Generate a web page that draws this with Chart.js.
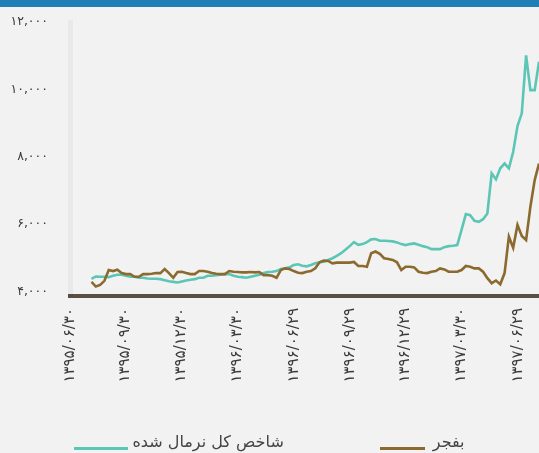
<!DOCTYPE html>
<html lang="fa">
<head>
<meta charset="utf-8">
<script src="https://cdn.jsdelivr.net/npm/chart.js@4.4.0/dist/chart.umd.min.js"></script>
<style>
  html, body { margin: 0; padding: 0; background: #f2f2f2; }
  body { width: 539px; height: 453px; position: relative; overflow: hidden;
         font-family: "DejaVu Sans", sans-serif; }
  .top-bar { position: absolute; left: 0; top: 0; width: 539px; height: 7px; background: #1f7eb6; }
  #chart-wrap { position: absolute; left: 0; top: 0; width: 539px; height: 453px; }
  .legend { position: absolute; left: 0; top: 432px; width: 539px; display: flex;
            justify-content: center; gap: 96px; color: #444; font-size: 16px; }
  .legend-item { display: flex; align-items: flex-end; }
  .legend-line { display: inline-block; height: 3px; margin-bottom: 1px; }
</style>
</head>
<body>
<div id="chart-wrap"><canvas id="chart"></canvas></div>
<div class="top-bar"></div>
<div class="legend" id="legend"></div>

<script>
// ── Data ──────────────────────────────────────────────────────────────────────
// x axis is counted in days from 1395/06/30
const xTickDays   = [0, 90, 180, 272, 364, 455, 545, 637, 729];
const xTickLabels = ["۱۳۹۵/۰۶/۳۰", "۱۳۹۵/۰۹/۳۰", "۱۳۹۵/۱۲/۳۰", "۱۳۹۶/۰۳/۳۰", "۱۳۹۶/۰۶/۲۹",
                     "۱۳۹۶/۰۹/۲۹", "۱۳۹۶/۱۲/۲۹", "۱۳۹۷/۰۳/۳۰", "۱۳۹۷/۰۶/۲۹"];
const yTicks      = [4000, 6000, 8000, 10000, 12000];
const yTickLabels = ["۴,۰۰۰", "۶,۰۰۰", "۸,۰۰۰", "۱۰,۰۰۰", "۱۲,۰۰۰"];

// weekly samples
const startDay = 35;
const stepDays = 7;

const indexNormalized = [
  4380, 4450, 4440, 4440, 4430, 4470, 4500, 4500, 4470, 4440,
  4440, 4410, 4410, 4390, 4380, 4380, 4370, 4340, 4310, 4290,
  4270, 4300, 4330, 4350, 4370, 4410, 4410, 4470, 4470, 4490,
  4500, 4520, 4520, 4470, 4440, 4430, 4410, 4440, 4470, 4500,
  4550, 4580, 4590, 4610, 4670, 4690, 4720, 4790, 4810, 4770,
  4750, 4790, 4840, 4870, 4890, 4940, 4990, 5060, 5140, 5240,
  5350, 5470, 5390, 5410, 5470, 5550, 5560, 5510, 5510, 5500,
  5490, 5460, 5410, 5380, 5410, 5430, 5390, 5350, 5320, 5260,
  5260, 5260, 5320, 5350, 5360, 5380, 5830, 6300, 6270, 6100,
  6070, 6150, 6320, 7510, 7330, 7660, 7800, 7660, 8150, 8910,
  9290, 11010, 9980, 9980, 10820
];

const bafajr = [
  4290, 4150, 4200, 4320, 4640, 4610, 4650, 4550, 4520, 4520,
  4440, 4440, 4520, 4520, 4530, 4550, 4550, 4670, 4550, 4410,
  4580, 4590, 4550, 4520, 4520, 4610, 4610, 4590, 4550, 4530,
  4520, 4520, 4610, 4590, 4580, 4570, 4570, 4580, 4570, 4580,
  4490, 4490, 4470, 4410, 4640, 4690, 4670, 4610, 4560, 4550,
  4590, 4610, 4690, 4870, 4920, 4910, 4840, 4860, 4860, 4860,
  4860, 4880, 4760, 4760, 4740, 5140, 5190, 5120, 4990, 4970,
  4940, 4870, 4640, 4740, 4740, 4720, 4590, 4560, 4550, 4590,
  4610, 4690, 4660, 4590, 4590, 4590, 4640, 4760, 4740, 4690,
  4690, 4590, 4400, 4250, 4330, 4220, 4550, 5630, 5300, 5980,
  5650, 5530, 6520, 7310, 7800
];

const series = [
  { label: "شاخص کل نرمال شده", values: indexNormalized, color: "#5cc6b6", order: 1 },
  { label: "بفجر",              values: bafajr,          color: "#8b6a2f", order: 0 }
];

// ── Chart ─────────────────────────────────────────────────────────────────────
function toPoints(values) {
  return values.map((v, i) => ({ x: startDay + i * stepDays, y: v }));
}

Chart.defaults.font.family = "'DejaVu Sans', sans-serif";

new Chart(document.getElementById("chart"), {
  type: "line",
  data: {
    datasets: series.map(s => ({
      label:       s.label,
      data:        toPoints(s.values),
      borderColor: s.color,
      borderWidth: 2.6,
      pointRadius: 0,
      tension:     0,
      fill:        false,
      order:       s.order
    }))
  },
  options: {
    responsive:          true,
    maintainAspectRatio: false,
    animation:           false,
    layout: { padding: { top: 22, left: 0, right: 0, bottom: 0 } },
    plugins: {
      legend:  { display: false },
      tooltip: { enabled: false }
    },
    scales: {
      x: {
        type: "linear",
        min:  0,
        max:  763,
        afterBuildTicks: s => { s.ticks = xTickDays.map(v => ({ value: v })); },
        afterFit: s => {
          s.height = 157;
          s.paddingLeft = 0;
          s.paddingRight = 0;
        },
        ticks: {
          autoSkip:    false,
          minRotation: 90,
          maxRotation: 90,
          padding:     12,
          color:       "#3a3a3a",
          font:        { size: 15 },
          callback:    (v, i) => xTickLabels[i]
        },
        grid:   { display: false, drawTicks: false },
        border: { display: true, color: "#5b4e44", width: 4 }
      },
      y: {
        min: 3870,
        max: 12000,
        afterBuildTicks: s => { s.ticks = yTicks.map(v => ({ value: v })); },
        afterFit: s => {
          s.width = 70;
          s.paddingTop = 0;
          s.paddingBottom = 0;
        },
        ticks: {
          padding:  22,
          color:    "#3a3a3a",
          font:     { size: 12.5 },
          callback: (v, i) => yTickLabels[i]
        },
        grid:   { display: false, drawTicks: false },
        border: { display: true, color: "rgba(0,0,0,0.035)", width: 5 }
      }
    }
  }
});

// ── Legend ────────────────────────────────────────────────────────────────────
const legendWidths = [54, 45];
const legendGaps   = [4, 8];
document.getElementById("legend").innerHTML = series.map((s, i) => `
  <div class="legend-item">
    <span class="legend-line" style="width:${legendWidths[i]}px;margin-right:${legendGaps[i]}px;background:${s.color}"></span>
    <span>${s.label}</span>
  </div>`).join("");
</script>
</body>
</html>
